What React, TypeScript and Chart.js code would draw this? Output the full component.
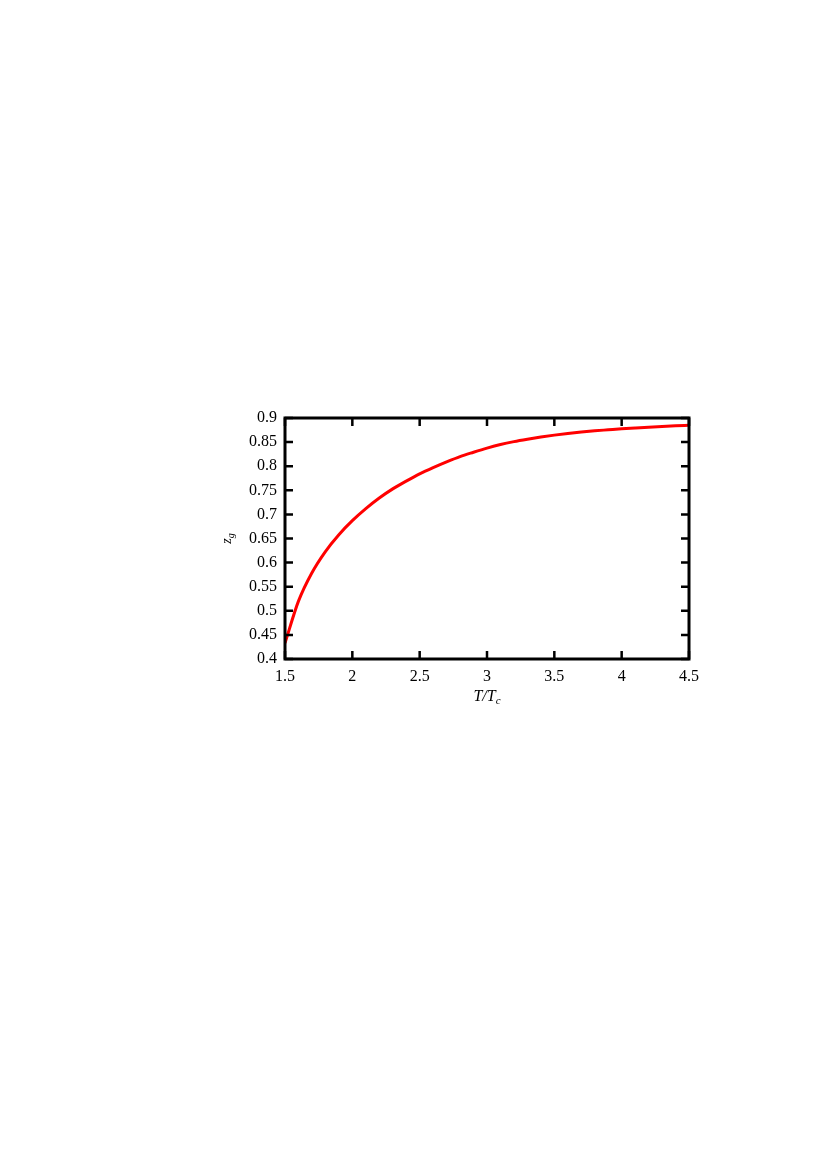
import React, { useEffect, useRef } from "react";
import { Chart, registerables } from "chart.js";

Chart.register(...registerables);

// Data (T/Tc vs z_g)
const temperatureRatio = [
  1.5, 1.6, 1.7, 1.8, 1.9, 2.0, 2.1, 2.2, 2.3, 2.4, 2.5, 2.6, 2.7, 2.8, 2.9, 3.0,
  3.1, 3.2, 3.3, 3.4, 3.5, 3.6, 3.7, 3.8, 3.9, 4.0, 4.1, 4.2, 4.3, 4.4, 4.5,
];
const zgValues = [
  0.433, 0.52, 0.579, 0.623, 0.658, 0.687, 0.712, 0.734, 0.753, 0.769, 0.784, 0.797, 0.809, 0.82, 0.829, 0.8375,
  0.845, 0.851, 0.856, 0.8605, 0.8645, 0.868, 0.871, 0.8735, 0.8755, 0.8775, 0.8793, 0.881, 0.8825, 0.8838, 0.885,
];

const xTicks = [1.5, 2, 2.5, 3, 3.5, 4, 4.5];
const xTickLabels = ["1.5", "2", "2.5", "3", "3.5", "4", "4.5"];
const yTicks = [0.4, 0.45, 0.5, 0.55, 0.6, 0.65, 0.7, 0.75, 0.8, 0.85, 0.9];
const yTickLabels = ["0.4", "0.45", "0.5", "0.55", "0.6", "0.65", "0.7", "0.75", "0.8", "0.85", "0.9"];

const W = 817;
const H = 1157;
const SERIF = '"Liberation Serif", "DejaVu Serif", serif';

const framePlugin = {
  id: "frameTicks",
  afterDatasetsDraw(chart: any) {
    const { ctx, chartArea: a, scales } = chart;
    const x = scales.x;
    const y = scales.y;
    ctx.save();
    ctx.strokeStyle = "#000";
    ctx.lineWidth = 2.5;
    ctx.lineCap = "butt";
    const tl = 8;
    for (const v of xTicks) {
      const px = x.getPixelForValue(v);
      ctx.beginPath();
      ctx.moveTo(px, a.bottom);
      ctx.lineTo(px, a.bottom - tl);
      ctx.moveTo(px, a.top);
      ctx.lineTo(px, a.top + tl);
      ctx.stroke();
    }
    for (const v of yTicks) {
      const py = y.getPixelForValue(v);
      ctx.beginPath();
      ctx.moveTo(a.left, py);
      ctx.lineTo(a.left + tl, py);
      ctx.moveTo(a.right, py);
      ctx.lineTo(a.right - tl, py);
      ctx.stroke();
    }
    ctx.lineWidth = 3;
    ctx.strokeRect(a.left, a.top, a.right - a.left, a.bottom - a.top);

    // x axis title: T/T_c
    ctx.fillStyle = "#000";
    ctx.textBaseline = "alphabetic";
    ctx.textAlign = "left";
    const mainFont = `italic 16px ${SERIF}`;
    const subFont = `italic 11px ${SERIF}`;
    ctx.font = mainFont;
    const mainW = ctx.measureText("T/T").width;
    ctx.font = subFont;
    const subW = ctx.measureText("c").width;
    const cx = (a.left + a.right) / 2;
    const startX = cx - (mainW + subW) / 2;
    const base = 701;
    ctx.font = mainFont;
    ctx.fillText("T/T", startX, base);
    ctx.font = subFont;
    ctx.fillText("c", startX + mainW, base + 3);

    // y axis title: z_g (rotated)
    ctx.save();
    ctx.translate(231, (a.top + a.bottom) / 2);
    ctx.rotate(-Math.PI / 2);
    const zFont = `italic 14px ${SERIF}`;
    const gFont = `italic 10px ${SERIF}`;
    ctx.font = zFont;
    const zW = ctx.measureText("z").width;
    ctx.font = gFont;
    const gW = ctx.measureText("g").width;
    const sx = -(zW + gW) / 2;
    ctx.font = zFont;
    ctx.fillText("z", sx, 0);
    ctx.font = gFont;
    ctx.fillText("g", sx + zW, 3);
    ctx.restore();

    ctx.restore();
  },
};

export default function App() {
  const canvasRef = useRef<HTMLCanvasElement | null>(null);

  useEffect(() => {
    const canvas = canvasRef.current;
    if (!canvas) return;
    const points = temperatureRatio.map((t, i) => ({ x: t, y: zgValues[i] }));
    const chart = new Chart(canvas, {
      type: "line",
      data: {
        datasets: [
          {
            data: points,
            borderColor: "#ff0000",
            borderWidth: 3,
            pointRadius: 0,
            fill: false,
            cubicInterpolationMode: "monotone",
          },
        ],
      },
      options: {
        responsive: false,
        animation: false,
        devicePixelRatio: 1,
        layout: { padding: { left: 225, top: 418, right: 128, bottom: 468 } },
        plugins: { legend: { display: false }, tooltip: { enabled: false } },
        scales: {
          x: {
            type: "linear",
            min: 1.5,
            max: 4.5,
            afterBuildTicks: (scale: any) => {
              scale.ticks = xTicks.map((v) => ({ value: v }));
            },
            afterFit: (scale: any) => {
              scale.height = 30;
            },
            grid: { display: false, drawTicks: false },
            border: { display: false },
            ticks: {
              padding: 8,
              maxRotation: 0,
              autoSkip: false,
              color: "#000",
              font: { family: SERIF, size: 16 },
              callback: (_v: any, i: number) => xTickLabels[i],
            },
          },
          y: {
            type: "linear",
            min: 0.4,
            max: 0.9,
            afterBuildTicks: (scale: any) => {
              scale.ticks = yTicks.map((v) => ({ value: v }));
            },
            afterFit: (scale: any) => {
              scale.width = 60;
            },
            grid: { display: false, drawTicks: false },
            border: { display: false },
            ticks: {
              padding: 8,
              autoSkip: false,
              color: "#000",
              font: { family: SERIF, size: 16 },
              callback: (_v: any, i: number) => yTickLabels[i],
            },
          },
        },
      },
      plugins: [framePlugin],
    });
    return () => chart.destroy();
  }, []);

  return (
    <div style={{ position: "absolute", left: 0, top: 0, width: W, height: H, background: "#fff" }}>
      <canvas ref={canvasRef} width={W} height={H} style={{ width: W, height: H, display: "block" }} />
    </div>
  );
}
